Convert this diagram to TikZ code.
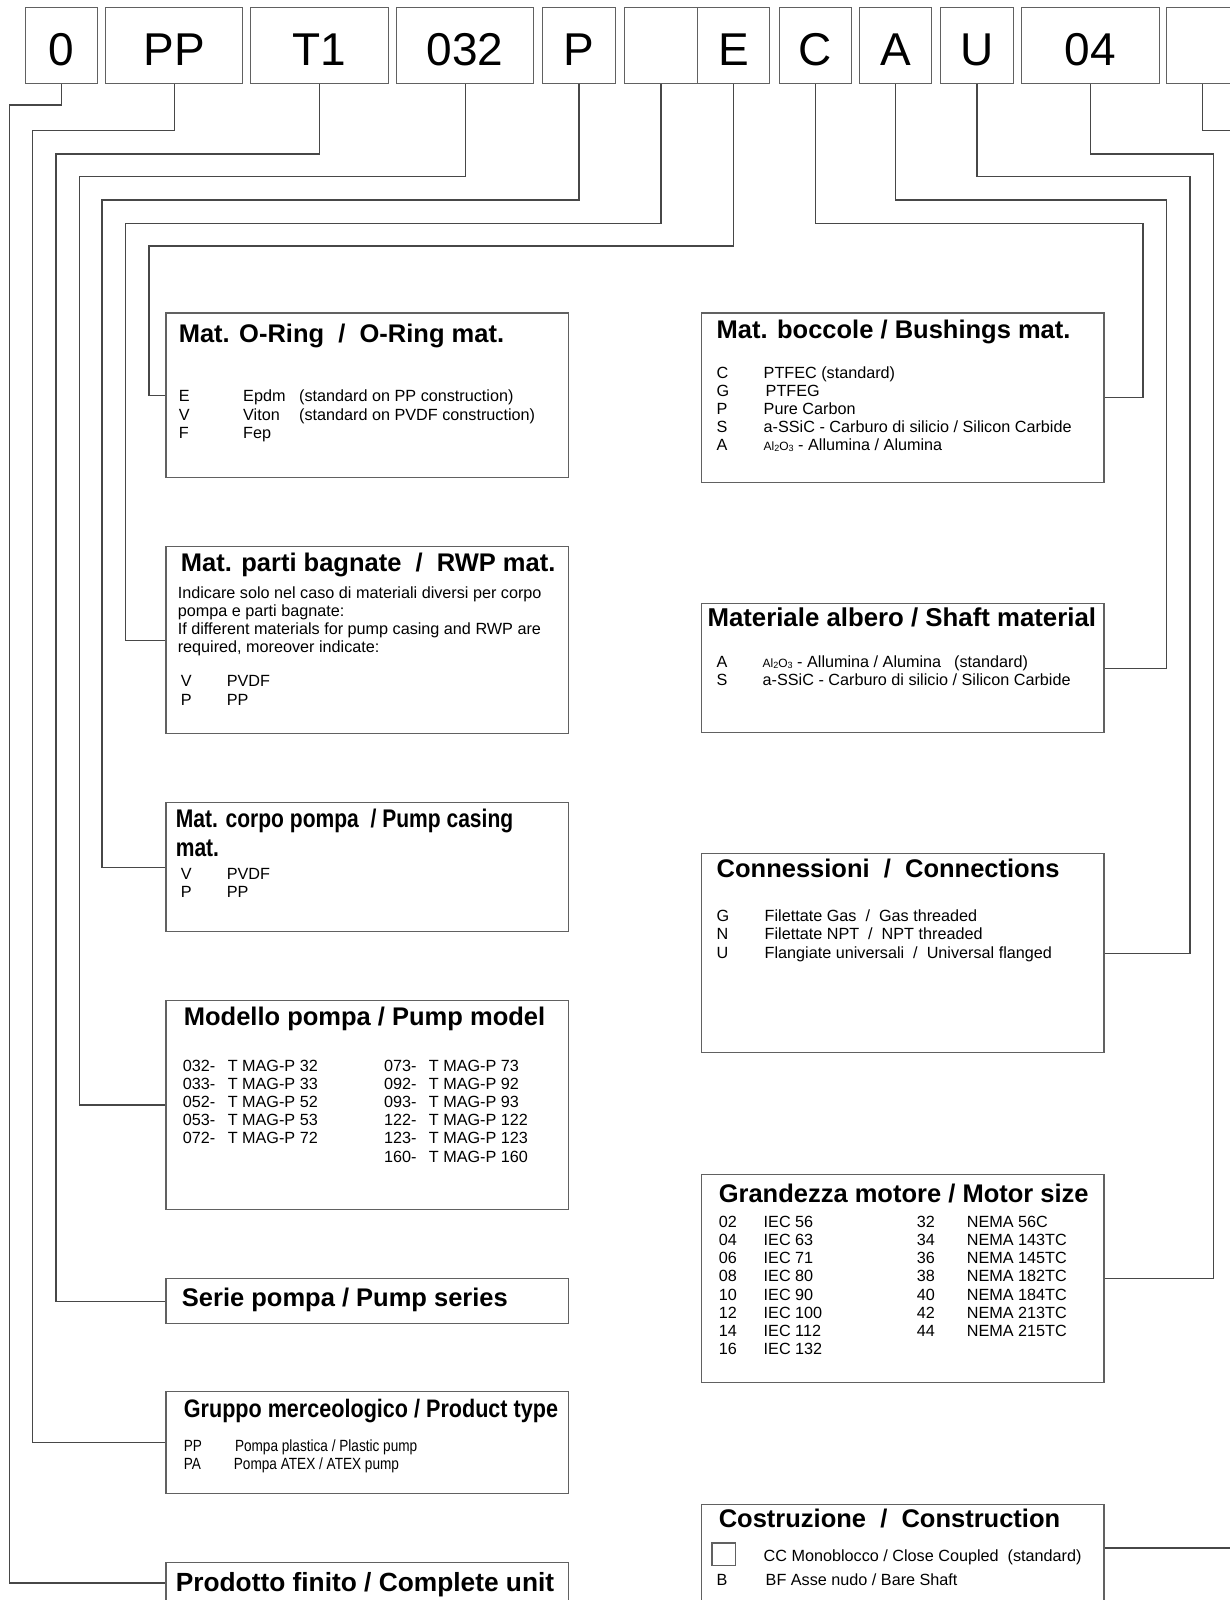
\documentclass[tikz,border=0pt]{standalone}
\usepackage{fontspec}
\setmainfont{Liberation Sans}
\newfontfamily\narrowfont[FakeStretch=0.84]{Liberation Sans}
\newfontfamily\narrowfontB[FakeStretch=0.853]{Liberation Sans}
\newfontfamily\narrowfontC[FakeStretch=0.825]{Liberation Sans}
\usetikzlibrary{calc}
\newcommand\alox{{\fontsize{12}{13}\selectfont Al\raisebox{-1.2pt}{\fontsize{9}{10}\selectfont 2}O\raisebox{-1.2pt}{\fontsize{9}{10}\selectfont 3}}}
\begin{document}
\begin{tikzpicture}[x=1pt,y=-1pt,
  box/.style={draw=black!62, line width=1.3pt, anchor=north west, inner sep=0pt},
  codebox/.style={box, minimum height=76, text height=39, text depth=0, font=\fontsize{46}{50}\selectfont},
  conn/.style={draw=black!72, line width=1.3pt},
  ttl/.style={anchor=base west, inner sep=0pt, font=\fontsize{25.5}{30}\selectfont\bfseries},
  nttl/.style={anchor=base west, inner sep=0pt, font=\narrowfont\fontsize{25.5}{30}\selectfont\bfseries},
  txt/.style={anchor=base west, inner sep=0pt, font=\fontsize{16.2}{19}\selectfont},
  ntxt/.style={anchor=base west, inner sep=0pt, font=\narrowfont\fontsize{16.2}{19}\selectfont},
]
\useasboundingbox (0,0) rectangle (1230,1600);

% ---------- code boxes ----------
\node[codebox, minimum width=72.5]  (c0)  at (24.5,7)  {0};
\node[codebox, minimum width=137]   (cPP) at (105,7)   {PP};
\node[codebox, minimum width=138]   (cT1) at (250,7)   {T1};
\node[codebox, minimum width=137]   (c032) at (396,7)  {032};
\node[codebox, minimum width=72.5]  (cP)  at (542,7)   {P};
\node[codebox, minimum width=73.4]  (cX)  at (623.6,7) {};
\node[codebox, minimum width=71.6]  (cE)  at (697,7)   {E};
\node[codebox, minimum width=72.2]  (cC)  at (778.8,7) {C};
\node[codebox, minimum width=72]    (cA)  at (859,7)   {A};
\node[codebox, minimum width=72.5]  (cU)  at (940,7)   {U};
\node[codebox, minimum width=137.8] (c04) at (1020.7,7) {04};
\node[codebox, minimum width=72.4]  (cL)  at (1165.6,7) {};

% ---------- description boxes ----------
\node[box, minimum width=402.1, minimum height=164.4] (oring)    at (165.4,312.3) {};
\node[box, minimum width=402.4, minimum height=169.5] (bush)     at (701,312.3) {};
\node[box, minimum width=402.1, minimum height=187]   (rwp)      at (165.4,546) {};
\node[box, minimum width=402.4, minimum height=129]   (shaft)    at (701,603) {};
\node[box, minimum width=402.1, minimum height=129]   (casing)   at (165.4,802) {};
\node[box, minimum width=402.4, minimum height=199]   (connx)    at (701,853) {};
\node[box, minimum width=402.1, minimum height=208.5] (model)    at (165.4,1000) {};
\node[box, minimum width=402.4, minimum height=208]   (motor)    at (701,1174) {};
\node[box, minimum width=402.1, minimum height=45]    (series)   at (165.4,1278) {};
\node[box, minimum width=402.1, minimum height=102]   (product)  at (165.4,1391) {};
\node[box, minimum width=402.4, minimum height=130]   (constr)   at (701,1503.5) {};
\node[box, minimum width=402.1, minimum height=70]    (complete) at (165.4,1561.7) {};

% ---------- connectors ----------
\coordinate (lastend) at (1236,130.6);
\coordinate (constrend) at (1236,1548);
\draw[conn] (c0.south)   |- (9.2,105)    |- ($(complete.north west)+(0,21.3)$);
\draw[conn] (cPP.south)  |- (32.7,130.6) |- (product.west);
\draw[conn] (cT1.south)  |- (56,154)     |- (series.west);
\draw[conn] (c032.south) |- (79.6,176.6) |- (model.west);
\draw[conn] (cP.south)   |- (102,200)    |- (casing.west);
\draw[conn] (cX.south)   |- (125.5,223.5) |- (rwp.west);
\draw[conn] (cE.south)   |- (149,246)    |- (oring.west);
\draw[conn] (cC.south)   |- (1143,223.5) |- (bush.east);
\draw[conn] (cA.south)   |- (1166.6,200) |- (shaft.east);
\draw[conn] (cU.south)   |- (1190,176.6) |- (connx.east);
\draw[conn] (c04.south)  |- (1213.6,154) |- (motor.east);
\draw[conn] (cL.south)   |- (lastend);
\draw[conn] ($(constr.north east)+(0,44.5)$) -- (constrend);

% ---------- O-Ring ----------
\node[ttl] (oT) at (178.6,342) {Mat. O-Ring~~/~~O-Ring mat.};
\node[txt] (o1a) at (178.6,401.7) {E};
\node[txt] (o1b) at (243,401.7) {Epdm};
\node[txt] (o1c) at (299,401.7) {(standard on PP construction)};
\node[txt] (o2a) at (178.6,420) {V};
\node[txt] (o2b) at (243,420) {Viton};
\node[txt] (o2c) at (299,420) {(standard on PVDF construction)};
\node[txt] (o3a) at (178.6,438.5) {F};
\node[txt] (o3b) at (243,438.5) {Fep};

% ---------- Bushings ----------
\node[ttl] (bT) at (716.5,338.7) {Mat. boccole / Bushings mat.};
\node[txt] (b1a) at (716.5,378.3) {C};
\node[txt] (b1b) at (763.5,378.3) {PTFEC (standard)};
\node[txt] (b2a) at (716.5,396.4) {G};
\node[txt] (b2b) at (765.5,396.4) {PTFEG};
\node[txt] (b3a) at (716.5,414.5) {P};
\node[txt] (b3b) at (763.5,414.5) {Pure Carbon};
\node[txt] (b4a) at (716.5,432.6) {S};
\node[txt] (b4b) at (763.5,432.6) {a-SSiC - Carburo di silicio / Silicon Carbide};
\node[txt] (b5a) at (716.5,450.7) {A};
\node[txt] (b5b) at (763.5,450.7) {\alox{} - Allumina / Alumina};

% ---------- RWP ----------
\node[ttl] (rT) at (180.7,571.4) {Mat. parti bagnate~~/~~RWP mat.};
\node[txt] (r1) at (177.6,598.7) {Indicare solo nel caso di materiali diversi per corpo};
\node[txt] (r2) at (177.6,616.4) {pompa e parti bagnate:};
\node[txt] (r3) at (177.6,634.4) {If different materials for pump casing and RWP are};
\node[txt] (r4) at (177.6,652) {required, moreover indicate:};
\node[txt] (r5a) at (180.7,686.5) {V};
\node[txt] (r5b) at (226.6,686.5) {PVDF};
\node[txt] (r6a) at (180.7,705) {P};
\node[txt] (r6b) at (226.6,705) {PP};

% ---------- Shaft ----------
\node[ttl, font=\fontsize{25.8}{30}\selectfont\bfseries] (sT) at (707.3,626.5) {Materiale albero / Shaft material};
\node[txt] (s1a) at (716.5,667) {A};
\node[txt] (s1b) at (762.5,667) {\alox{} - Allumina / Alumina};
\node[txt] (s1c) at (954,667) {(standard)};
\node[txt] (s2a) at (716.5,685.5) {S};
\node[txt] (s2b) at (762.5,685.5) {a-SSiC - Carburo di silicio / Silicon Carbide};

% ---------- Pump casing ----------
\node[nttl, font=\narrowfontC\fontsize{25.5}{30}\selectfont\bfseries] (pT1) at (175.6,827.6) {Mat. corpo pompa~~/ Pump casing};
\node[nttl, font=\narrowfontC\fontsize{25.5}{30}\selectfont\bfseries] (pT2) at (175.6,856) {mat.};
\node[txt] (p1a) at (180.7,879.4) {V};
\node[txt] (p1b) at (226.6,879.4) {PVDF};
\node[txt] (p2a) at (180.7,897.8) {P};
\node[txt] (p2b) at (226.6,897.8) {PP};

% ---------- Connections ----------
\node[ttl] (nT) at (716.5,877.6) {Connessioni~~/~~Connections};
\node[txt] (n1a) at (716.5,921.3) {G};
\node[txt] (n1b) at (764.5,921.3) {Filettate Gas~~/~~Gas threaded};
\node[txt] (n2a) at (716.5,939.7) {N};
\node[txt] (n2b) at (764.5,939.7) {Filettate NPT~~/~~NPT threaded};
\node[txt] (n3a) at (716.5,958) {U};
\node[txt] (n3b) at (764.5,958) {Flangiate universali~~/~~Universal flanged};

% ---------- Pump model ----------
\node[ttl] (mT) at (183.7,1025.6) {Modello pompa / Pump model};
\foreach \c/\n [count=\i from 0] in {032/32,033/33,052/52,053/53,072/72} {
  \node[txt] (ma\i) at (182.7,{1071.3+18.15*\i}) {\c-};
  \node[txt] (mb\i) at (227.6,{1071.3+18.15*\i}) {T MAG-P \n};
}
\foreach \c/\n [count=\i from 0] in {073/73,092/92,093/93,122/122,123/123,160/160} {
  \node[txt] (mc\i) at (383.8,{1071.3+18.15*\i}) {\c-};
  \node[txt] (md\i) at (428.7,{1071.3+18.15*\i}) {T MAG-P \n};
}

% ---------- Motor size ----------
\node[ttl] (gT) at (718.6,1202.2) {Grandezza motore / Motor size};
\foreach \c/\n [count=\i from 0] in {02/56,04/63,06/71,08/80,10/90,12/100,14/112,16/132} {
  \node[txt] (ga\i) at (718.6,{1227.5+18.15*\i}) {\c};
  \node[txt] (gb\i) at (763.5,{1227.5+18.15*\i}) {IEC \n};
}
\foreach \c/\n [count=\i from 0] in {32/56C,34/143TC,36/145TC,38/182TC,40/184TC,42/213TC,44/215TC} {
  \node[txt] (gc\i) at (916.6,{1227.5+18.15*\i}) {\c};
  \node[txt] (gd\i) at (966.6,{1227.5+18.15*\i}) {NEMA \n};
}

% ---------- Pump series ----------
\node[ttl] (eT) at (181.7,1306.3) {Serie pompa / Pump series};

% ---------- Product type ----------
\node[nttl, font=\narrowfontB\fontsize{25.3}{30}\selectfont\bfseries] (tT) at (183.7,1417.6) {Gruppo merceologico / Product type};
\node[ntxt] (t1a) at (183.7,1451) {PP};
\node[ntxt] (t1b) at (234.8,1451) {Pompa plastica / Plastic pump};
\node[ntxt] (t2a) at (183.7,1469.4) {PA};
\node[ntxt] (t2b) at (233.7,1469.4) {Pompa ATEX / ATEX pump};

% ---------- Construction ----------
\node[ttl] (kT) at (718.6,1527.8) {Costruzione~~/~~Construction};
\node[box, minimum width=23.6, minimum height=22.4] (chk) at (711.4,1542.3) {};
\node[txt] (k1) at (763.5,1561.3) {CC Monoblocco / Close Coupled~~(standard)};
\node[txt] (k2a) at (716.5,1585.7) {B};
\node[txt] (k2b) at (765.5,1585.7) {BF Asse nudo / Bare Shaft};

% ---------- Complete unit ----------
\node[ttl, font=\fontsize{26.3}{30}\selectfont\bfseries] (uT) at (175.6,1591) {Prodotto finito / Complete unit};
\end{tikzpicture}
\end{document}
